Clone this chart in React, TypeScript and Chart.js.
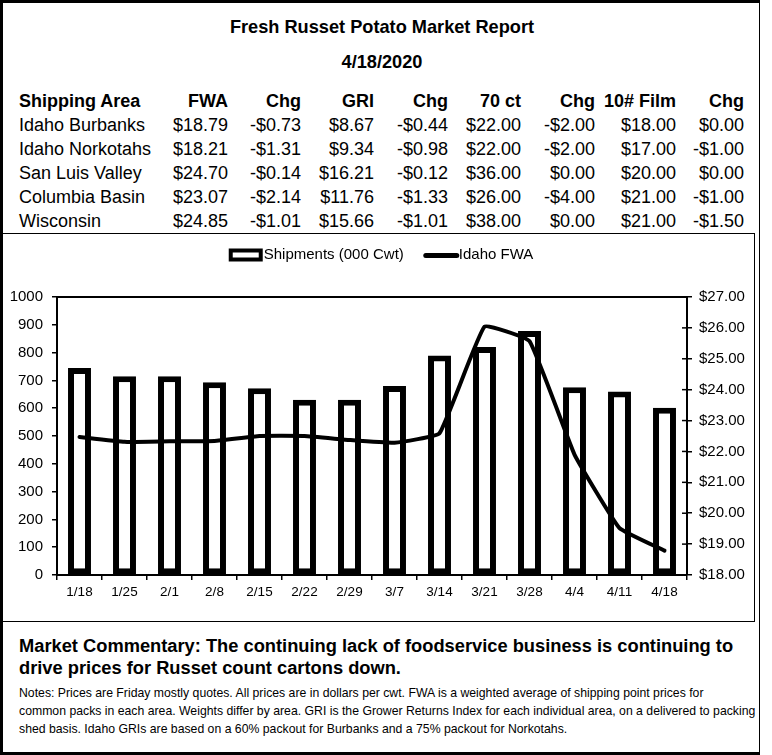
import React, { useEffect, useRef } from 'react';
import { Chart, registerables } from 'chart.js';

Chart.register(...registerables);

// ---------- Data ----------
const weeks = ['1/18', '1/25', '2/1', '2/8', '2/15', '2/22', '2/29', '3/7', '3/14', '3/21', '3/28', '4/4', '4/11', '4/18'];
const shipments = [745, 715, 715, 693, 672, 630, 630, 680, 790, 820, 878, 675, 660, 602];
const idahoFwa = [22.47, 22.31, 22.33, 22.34, 22.5, 22.5, 22.37, 22.28, 22.59, 26.04, 25.57, 21.9, 19.52, 18.79];

const tableHeaders = ['Shipping Area', 'FWA', 'Chg', 'GRI', 'Chg', '70 ct', 'Chg', '10# Film', 'Chg'];
const areas = ['Idaho Burbanks', 'Idaho Norkotahs', 'San Luis Valley', 'Columbia Basin', 'Wisconsin'];
const fwa = [18.79, 18.21, 24.7, 23.07, 24.85];
const fwaChg = [-0.73, -1.31, -0.14, -2.14, -1.01];
const gri = [8.67, 9.34, 16.21, 11.76, 15.66];
const griChg = [-0.44, -0.98, -0.12, -1.33, -1.01];
const ct70 = [22, 22, 36, 26, 38];
const ct70Chg = [-2, -2, 0, -4, 0];
const film = [18, 17, 20, 21, 21];
const filmChg = [0, -1, 0, -1, -1.5];

const title = 'Fresh Russet Potato Market Report';
const reportDate = '4/18/2020';
const commentary = [
  'Market Commentary: The continuing lack of foodservice business is continuing to',
  'drive prices for Russet count cartons down.',
];
const notes = [
  'Notes: Prices are Friday mostly quotes. All prices are in dollars per cwt. FWA is a weighted average of shipping point prices for',
  'common packs in each area. Weights differ by area. GRI is the Grower Returns Index for each individual area, on a delivered to packing',
  'shed basis. Idaho GRIs are based on a 60% packout for Burbanks and a 75% packout for Norkotahs.',
];

// ---------- Layout / style ----------
const FONT = '"Liberation Sans", Arial, Helvetica, sans-serif';
const colRight = [228, 301, 374, 448, 521, 595, 676, 744];
const money = (v: number) => (v < 0 ? `-$${Math.abs(v).toFixed(2)}` : `$${v.toFixed(2)}`);

const CANVAS_W = 751;
const CANVAS_H = 387;

const extrasPlugin = {
  id: 'extras',
  afterDraw(chart: any) {
    const { ctx, chartArea: a } = chart;
    ctx.save();
    ctx.strokeStyle = '#000';
    // top border of plot area
    ctx.lineWidth = 2;
    ctx.beginPath();
    ctx.moveTo(a.left - 1, a.top);
    ctx.lineTo(a.right + 1, a.top);
    ctx.stroke();
    // inner halves of right-axis ticks
    const y1 = chart.scales.y1;
    ctx.lineWidth = 1.5;
    y1.ticks.forEach((_t: any, i: number) => {
      const py = y1.getPixelForTick(i);
      ctx.beginPath();
      ctx.moveTo(a.right - 5, py);
      ctx.lineTo(a.right, py);
      ctx.stroke();
    });
    // legend
    ctx.font = `15px ${FONT}`;
    ctx.fillStyle = '#000';
    ctx.textBaseline = 'middle';
    const ly = 21;
    const items = chart.data.datasets.map((d: any) => ({ label: d.label, type: d.type, w: 35 + ctx.measureText(d.label).width }));
    const spacing = 20;
    const total = items.reduce((s: number, it: any) => s + it.w, 0) + spacing * (items.length - 1);
    let x = chart.width / 2 + 2.5 - total / 2;
    items.forEach((it: any) => {
      if (it.type === 'bar') {
        ctx.lineWidth = 4;
        ctx.fillStyle = '#fff';
        ctx.fillRect(x + 2, ly - 4.5, 30, 9);
        ctx.strokeRect(x + 2, ly - 4.5, 30, 9);
      } else {
        ctx.lineWidth = 5;
        ctx.lineCap = 'round';
        ctx.beginPath();
        ctx.moveTo(x + 2, ly + 0.5);
        ctx.lineTo(x + 33, ly + 0.5);
        ctx.stroke();
      }
      ctx.fillStyle = '#000';
      ctx.fillText(it.label, x + 35, ly);
      x += it.w + spacing;
    });
    ctx.restore();
  },
};

function ShipmentChart() {
  const ref = useRef<HTMLCanvasElement | null>(null);
  useEffect(() => {
    if (!ref.current) return;
    const chart = new Chart(ref.current, {
      type: 'bar',
      data: {
        labels: weeks,
        datasets: [
          {
            type: 'bar',
            label: 'Shipments (000 Cwt)',
            data: shipments,
            yAxisID: 'y',
            backgroundColor: '#fff',
            borderColor: '#000',
            borderWidth: 6,
            borderSkipped: false,
            barPercentage: 0.51,
            categoryPercentage: 1,
            order: 2,
          } as any,
          {
            type: 'line',
            label: 'Idaho FWA',
            data: idahoFwa,
            yAxisID: 'y1',
            borderColor: '#000',
            backgroundColor: '#000',
            borderWidth: 4,
            pointRadius: 0,
            tension: 0.1,
            fill: false,
            borderCapStyle: 'round',
            borderJoinStyle: 'round',
            order: 1,
          } as any,
        ],
      },
      options: {
        responsive: false,
        animation: false,
        layout: { padding: { top: 63, left: 0, right: 0, bottom: 0 } },
        plugins: { legend: { display: false }, tooltip: { enabled: false } },
        scales: {
          x: {
            type: 'category',
            offset: true,
            grid: { offset: true, drawOnChartArea: false, drawTicks: true, tickLength: 5, color: '#000', lineWidth: 1.5 },
            border: { display: true, color: '#000', width: 2 },
            ticks: { color: '#000', font: { family: FONT, size: 13.5 }, padding: 4, maxRotation: 0, autoSkip: false },
            afterFit: (s: any) => { s.height = 46; },
          },
          y: {
            position: 'left',
            min: 0,
            max: 1000,
            ticks: { stepSize: 100, color: '#000', font: { family: FONT, size: 15 }, padding: 9, callback: (v: any) => String(v) },
            grid: { drawOnChartArea: false, tickLength: 5, color: '#000', lineWidth: 1.5 },
            border: { display: true, color: '#000', width: 2 },
            afterFit: (s: any) => { s.width = 54; },
          },
          y1: {
            position: 'right',
            min: 18,
            max: 27,
            ticks: { stepSize: 1, color: '#000', font: { family: FONT, size: 15 }, padding: 7, callback: (v: any) => '$' + Number(v).toFixed(2) },
            grid: { drawOnChartArea: false, tickLength: 5, color: '#000', lineWidth: 1.5 },
            border: { display: true, color: '#000', width: 2 },
            afterFit: (s: any) => { s.width = 67; },
          },
        },
      } as any,
      plugins: [extrasPlugin],
    });
    return () => chart.destroy();
  }, []);
  return (
    <canvas
      ref={ref}
      width={CANVAS_W}
      height={CANVAS_H}
      style={{ position: 'absolute', left: 0, top: 0, width: CANVAS_W, height: CANVAS_H, display: 'block' }}
    />
  );
}

export default function App() {
  const rows = areas.map((a, i) => [a, money(fwa[i]), money(fwaChg[i]), money(gri[i]), money(griChg[i]), money(ct70[i]), money(ct70Chg[i]), money(film[i]), money(filmChg[i])]);
  const rowTop = (center: number) => center - 12;
  const renderRow = (cells: string[], center: number, bold: boolean, key: string) => (
    <div key={key} style={{ position: 'absolute', left: 0, top: rowTop(center), width: 760, height: 24, lineHeight: '24px', fontSize: 18, fontWeight: bold ? 'bold' : 'normal' }}>
      <div style={{ position: 'absolute', left: 19, top: 0, whiteSpace: 'nowrap' }}>{cells[0]}</div>
      {cells.slice(1).map((c, j) => (
        <div key={j} style={{ position: 'absolute', left: 0, width: colRight[j], top: 0, textAlign: 'right', whiteSpace: 'nowrap' }}>{c}</div>
      ))}
    </div>
  );
  return (
    <div style={{ position: 'absolute', left: 0, top: 0, width: 772, height: 755, background: '#fff', fontFamily: FONT, color: '#000', overflow: 'hidden' }}>
      <div style={{ position: 'absolute', left: 0, top: 0, width: 760, height: 755, boxSizing: 'border-box', borderLeft: '3px solid #000', borderTop: '3px solid #000', borderBottom: '3px solid #000', borderRight: '1px solid #000' }} />
      <div style={{ position: 'absolute', left: 0, top: 17, width: 764, textAlign: 'center', fontSize: 18.2, fontWeight: 'bold', lineHeight: '20px' }}>{title}</div>
      <div style={{ position: 'absolute', left: 0, top: 52, width: 764, textAlign: 'center', fontSize: 18.2, fontWeight: 'bold', lineHeight: '20px' }}>{reportDate}</div>
      {renderRow(tableHeaders, 101, true, 'h')}
      {rows.map((r, i) => renderRow(r, 125 + i * 24, false, 'r' + i))}
      <div style={{ position: 'absolute', left: 2, top: 233, width: 753, height: 389, boxSizing: 'border-box', border: '1px solid #000' }}>
        <ShipmentChart />
      </div>
      {commentary.map((t, i) => (
        <div key={'c' + i} style={{ position: 'absolute', left: 19, top: 635 + i * 22, fontSize: 18.3, fontWeight: 'bold', lineHeight: '22px', whiteSpace: 'nowrap' }}>{t}</div>
      ))}
      {notes.map((t, i) => (
        <div key={'n' + i} style={{ position: 'absolute', left: 19, top: 684 + i * 18, fontSize: 12.25, lineHeight: '18px', whiteSpace: 'nowrap' }}>{t}</div>
      ))}
    </div>
  );
}
